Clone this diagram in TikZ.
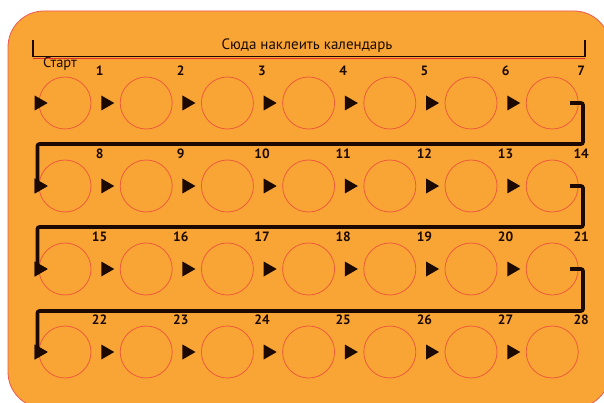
\documentclass[tikz,border=0pt]{standalone}
\usepackage{fontspec}
\setmainfont{PT Sans}
\usepackage{xcolor}
\usepackage{tikz}
\usetikzlibrary{positioning,calc,shapes.geometric}
\definecolor{calOrange}{HTML}{F8A536}
\definecolor{calRed}{HTML}{EE5A3A}
\definecolor{calEdge}{HTML}{E8302A}
\definecolor{calInk}{HTML}{1C0A02}

\begin{document}
\begin{tikzpicture}[x=1pt, y=-1pt,
    slot/.style={circle,draw=calRed,line width=0.8pt,minimum size=52pt,
                 inner sep=0pt,outer sep=0pt},
    tri/.style={isosceles triangle,isosceles triangle stretches,fill=calInk,
                minimum width=15pt,minimum height=13pt,inner sep=0pt},
    num/.style={font=\bfseries\fontsize{13.5}{14}\selectfont,text=calInk,inner sep=0pt},
    link/.style={draw=calInk,line width=3.6pt,rounded corners=2pt}]
    \useasboundingbox (0,0) rectangle (604,403);
    \clip (0,0) rectangle (604,403);
    \fill[white] (0,0) rectangle (604,403);
    \draw[calEdge!80,line width=0.8pt,fill=calOrange,rounded corners=36pt]
        (8,11) rectangle (610,408);

    % bracket for the calendar
    \draw[calEdge,line width=1pt] (33,58.5) -- (585,58.5);
    \draw[calInk,line width=1.6pt] (33,40) |- (585,56.5) -- (585,40);
    \node[text=calInk,font=\fontsize{15}{16}\selectfont] (title) at (307,46)
        {Сюда наклеить календарь};

    % slots
    \foreach \r in {0,...,3}{
      \foreach \c in {1,...,7}{
        \pgfmathtruncatemacro\k{7*\r+\c}
        \node[slot] (c\k) at ({65+(\c-1)*81.2},{103+\r*83}) {};
      }
    }
    % arrow marks before each slot
    \foreach \r in {0,...,3}{
      \foreach \c in {1,...,7}{
        \pgfmathtruncatemacro\k{7*\r+\c}
        \pgfmathtruncatemacro\p{\k-1}
        \ifnum\c=1
          \node[tri] (t\k) at (c\k.west) {};
        \else
          \node[tri] (t\k) at ($(c\p.east)!0.5!(c\k.west)$) {};
        \fi
      }
    }
    % day numbers
    \foreach \r in {0,...,3}{
      \foreach \c in {1,...,7}{
        \pgfmathtruncatemacro\k{7*\r+\c}
        \pgfmathtruncatemacro\q{\k+1}
        \ifnum\c=7
          \node[num] (n\k) at ($(c\k.center)+(29,-32)$) {\k};
        \else
          \node[num] (n\k) at ($(t\q.center)+(-6,-32)$) {\k};
        \fi
      }
    }
    \node[text=calInk,font=\fontsize{14.5}{15}\selectfont] (start)
        at ($(c1.center)+(-5,-39)$) {Старт};

    % row changes
    \coordinate (turn1) at (583,144);
    \coordinate (turn2) at (583,227);
    \coordinate (turn3) at (583,311);
    \draw[link] ([xshift=18pt]c7.center) -| (turn1) -| ([xshift=3pt]t8.west);
    \draw[link] ([xshift=18pt]c14.center) -| (turn2) -| ([xshift=3pt]t15.west);
    \draw[link] ([xshift=18pt]c21.center) -| (turn3) -| ([xshift=3pt]t22.west);
    \foreach \k in {8,15,22}{
      \node[tri] at (t\k) {};
    }
  \end{tikzpicture}
\end{document}
